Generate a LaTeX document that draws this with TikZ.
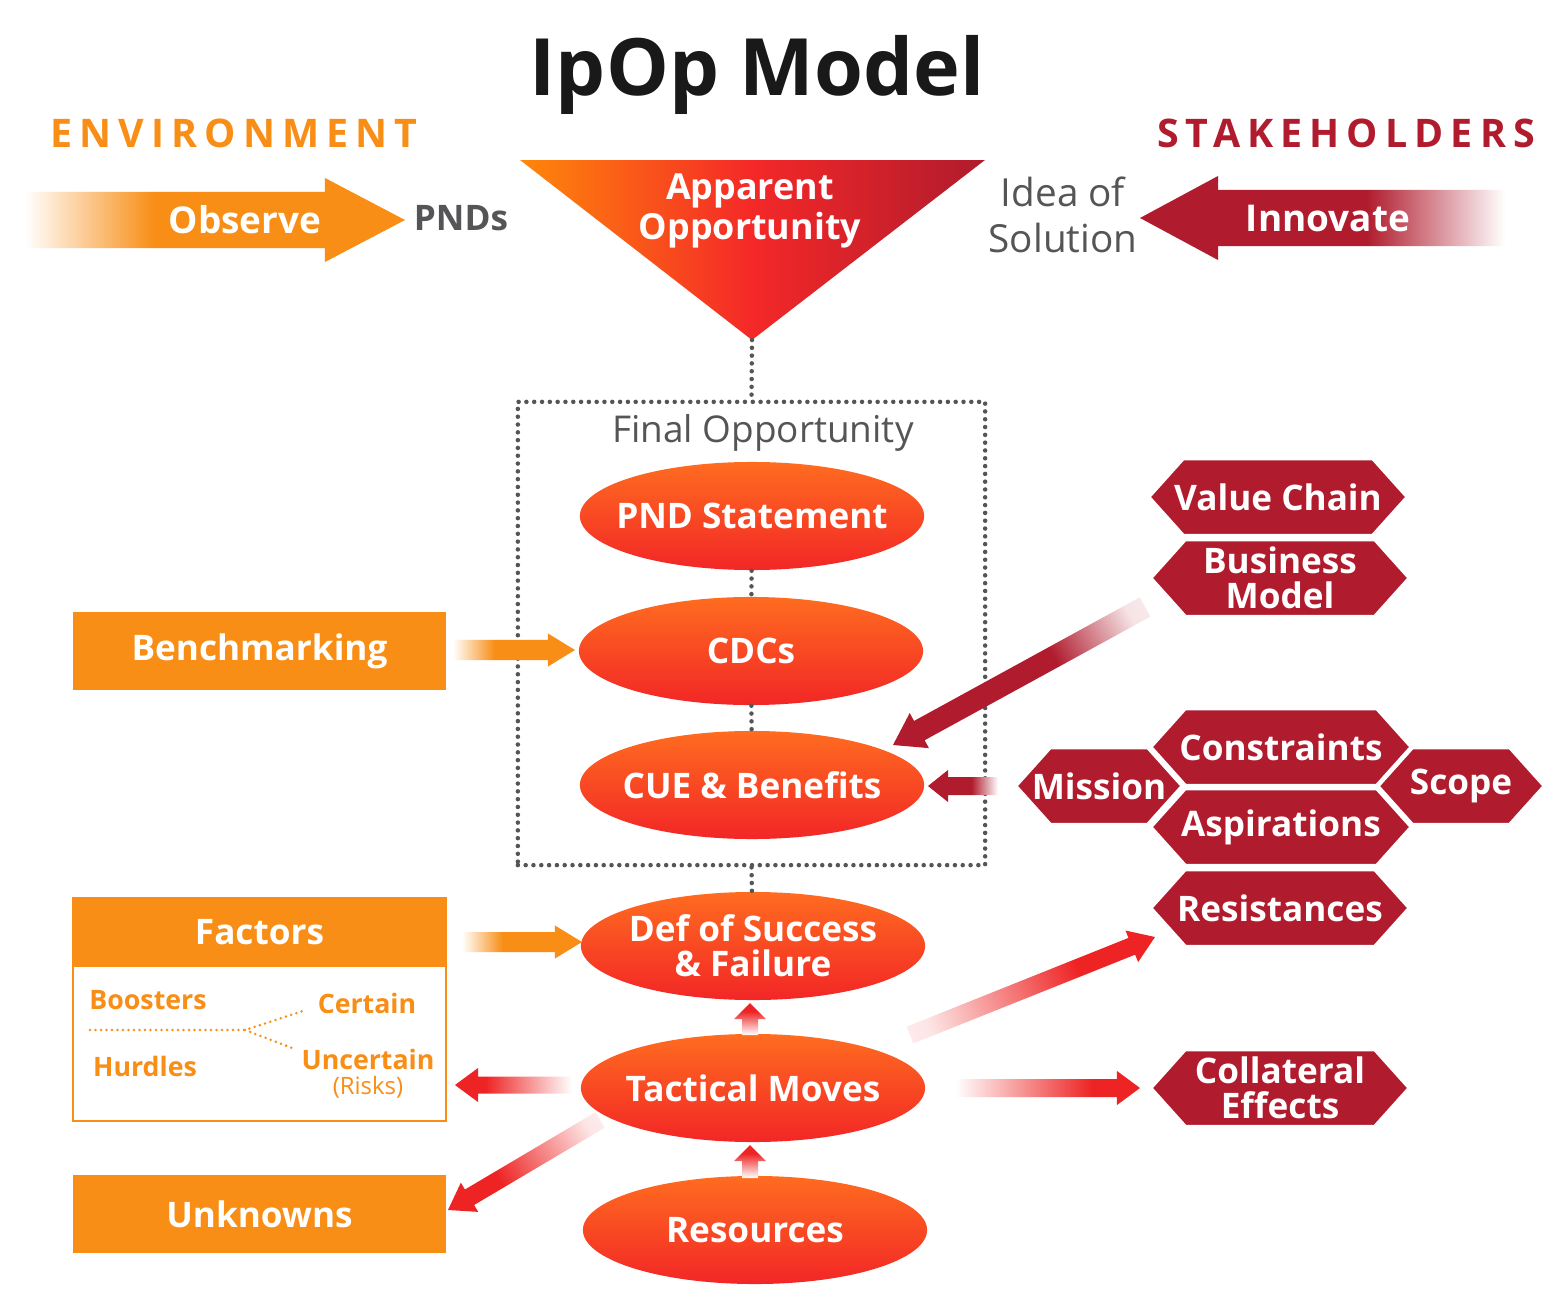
\documentclass[tikz,border=0pt]{standalone}
\usepackage{fontspec}
\setmainfont{Open Sans}
\usetikzlibrary{calc,shapes.geometric}
\definecolor{orC}{RGB}{248,142,22}
\definecolor{drC}{RGB}{176,27,45}
\definecolor{rdC}{RGB}{238,36,36}
\definecolor{elTop}{RGB}{255,108,32}
\definecolor{elBot}{RGB}{242,38,38}
\definecolor{grC}{RGB}{85,85,88}
\definecolor{triL}{RGB}{255,135,10}
\definecolor{triM}{RGB}{244,40,40}
\definecolor{triR}{RGB}{176,27,45}
\pgfdeclarehorizontalshading{fadeO}{100bp}{color(0bp)=(white); color(25bp)=(white); color(42bp)=(orC); color(100bp)=(orC)}
\pgfdeclarehorizontalshading{fadeD}{100bp}{color(0bp)=(white); color(25bp)=(white); color(44bp)=(drC); color(100bp)=(drC)}
\pgfdeclarehorizontalshading{fadeDd}{100bp}{color(0bp)=(white); color(22bp)=(drC!12); color(42bp)=(drC); color(100bp)=(drC)}
\pgfdeclarehorizontalshading{fadeR}{100bp}{color(0bp)=(white); color(25bp)=(white); color(62bp)=(rdC); color(100bp)=(rdC)}
\pgfdeclarehorizontalshading{fadeRd}{100bp}{color(0bp)=(white); color(24bp)=(rdC!12); color(62bp)=(rdC); color(100bp)=(rdC)}
% #1 tail, #2 tip, #3 shading, #4 angle, #5 half body, #6 half head, #7 head length
\newcommand\fatarrow[7]{%
  \path ($(#2)!#7!(#1)$) coordinate (hb);
  \shade[shading=#3, shading angle=#4] ($(#1)!#5!90:(#2)$) -- ($(hb)!#5!90:(#2)$) -- ($(hb)!#6!90:(#2)$) -- (#2) -- ($(hb)!#6!-90:(#2)$) -- ($(hb)!#5!-90:(#2)$) -- ($(#1)!#5!-90:(#2)$) -- cycle;
}
% #1 name, #2 cx, #3 cy, #4 half width, #5 text
\newcommand\hexa[5]{%
  \fill[drC, draw=white, line width=0.045cm, line join=miter] ({#2-#4},#3) -- ({#2-#4+35},{#3-39}) -- ({#2+#4-35},{#3-39}) -- ({#2+#4},#3) -- ({#2+#4-35},{#3+39}) -- ({#2-#4+35},{#3+39}) -- cycle;
  \node[lab] (#1) at (#2,#3) {#5};
}
\begin{document}
\begin{tikzpicture}[x=0.01cm,y=-0.01cm,
  lab/.style={text=white, font=\bfseries\fontsize{10}{10}\selectfont, align=center, inner sep=0pt},
  glab/.style={text=grC, font=\fontsize{10.5}{13}\selectfont, align=center, inner sep=0pt},
  ell/.style={ellipse, minimum width=3.44cm, minimum height=1.08cm, inner sep=0pt, top color=elTop, bottom color=elBot, draw=none},
  obox/.style={rectangle, fill=orC, minimum width=3.73cm, minimum height=0.78cm, inner sep=0pt, text=white, font=\bfseries\fontsize{10}{10}\selectfont},
  flab/.style={text=orC, font=\bfseries\fontsize{7.6}{8}\selectfont, inner sep=0pt},
  dotline/.style={grC, line width=0.045cm, line cap=round, dash pattern=on 0pt off 0.078cm},
  fdot/.style={orC, line width=0.028cm, line cap=round, dash pattern=on 0pt off 0.055cm}]
\useasboundingbox (0,0) rectangle (1566,1309);
\fill[white] (0,0) rectangle (1566,1309);

% title and headings
\node[anchor=base, inner sep=0pt, font=\bfseries\fontsize{22.5}{24}\selectfont, text=black!90] (title) at (757,95) {IpOp Model};
\node[anchor=base, inner sep=0pt, text=orC, font=\bfseries\fontsize{11.2}{12}\selectfont\addfontfeature{LetterSpace=18}] (env) at (234,147) {ENVIRONMENT};
\node[anchor=base, inner sep=0pt, text=drC, font=\bfseries\fontsize{11.2}{12}\selectfont\addfontfeature{LetterSpace=18}] (stk) at (1346,147) {STAKEHOLDERS};

% top arrows
\coordinate (obsT) at (25,220); \coordinate (obsH) at (405,220);
\fatarrow{obsT}{obsH}{fadeO}{0}{0.28cm}{0.42cm}{0.8cm}
\node[lab, font=\fontsize{10.5}{10}\selectfont\bfseries] (obs) at (245,220) {Observe};
\node[glab, font=\bfseries\fontsize{10}{12}\selectfont] (pnds) at (461,218) {PNDs};
\coordinate (innT) at (1505,218); \coordinate (innH) at (1140,218);
\fatarrow{innT}{innH}{fadeD}{180}{0.28cm}{0.42cm}{0.78cm}
\node[lab, font=\fontsize{10.5}{10}\selectfont\bfseries] (inn) at (1328,218) {Innovate};
\node[glab, font=\fontsize{11}{13}\selectfont] (idea) at (1063,215) {Idea of\\Solution};

% apparent opportunity triangle
\shade[left color=triL, right color=triR, middle color=triM] (520,160) -- (985,160) -- (752,340) -- cycle;
\coordinate (tri) at (752,340);
\node[lab, font=\bfseries\fontsize{10.2}{10}\selectfont] (app) at (750,211) {Apparent\\Opportunity};

% final opportunity box
\node[draw=grC, line width=0.045cm, line cap=round, dash pattern=on 0pt off 0.078cm, minimum width=4.67cm, minimum height=4.63cm, inner sep=0pt] (fbox) at (751.5,633.5) {};
\node[glab] (fo) at (763,433) {Final Opportunity};
\draw[dotline] (tri) -- (fbox.north);

% ellipses
\node[ell, label={[lab]center:PND Statement}] (pnd) at (752,516) {};
\node[ell, label={[lab]center:CDCs}] (cdc) at (751,651) {};
\node[ell, label={[lab]center:CUE \& Benefits}] (cue) at (752,785) {};
\node[ell, label={[lab]center:{Def of Success\\\& Failure}}] (def) at (753,946) {};
\node[ell, label={[lab]center:Tactical Moves}] (tac) at (753,1088) {};
\node[ell, label={[lab]center:Resources}] (rsc) at (755,1230) {};
\draw[dotline] (pnd) -- (cdc);
\draw[dotline] (cdc) -- (cue);
\draw[dotline] (fbox.south) -- (def);

% left boxes
\node[obox] (bench) at (259.5,651) {Benchmarking};
\node[draw=orC, line width=0.02cm, minimum width=3.73cm, minimum height=2.23cm, inner sep=0pt] (facbox) at (259.5,1009.5) {};
\node[obox, minimum height=0.69cm] (fac) at (259.5,932.5) {Factors};
\node[flab] (boost) at (148,1000) {Boosters};
\node[flab] (hurd) at (145,1066) {Hurdles};
\node[flab] (cert) at (367,1003) {Certain};
\node[flab] (unc) at (368,1059) {Uncertain};
\node[flab, font=\fontsize{6.8}{7}\selectfont] (risk) at (368,1087) {(Risks)};
\coordinate (fL) at (90,1030); \coordinate (fJ) at (245,1030);
\coordinate (fC) at (306,1010); \coordinate (fU) at (292,1048);
\draw[fdot] (fL) -- (fJ) -- (fC);
\draw[fdot] (fJ) -- (fU);
\node[obox] (unk) at (259.5,1214) {Unknowns};

% orange arrows
\coordinate (bT) at (453,650); \coordinate (bH) at (575,650);
\fatarrow{bT}{bH}{fadeO}{0}{0.1cm}{0.165cm}{0.27cm}
\coordinate (fT) at (462,942); \coordinate (fH) at (582,942);
\fatarrow{fT}{fH}{fadeO}{0}{0.1cm}{0.165cm}{0.27cm}

% hexagons
\hexa{vc}{1278}{497}{130}{Value Chain}
\hexa{bm}{1280}{578}{130}{Business\\Model}
\hexa{mis}{1099}{786}{84}{Mission}
\hexa{sco}{1461}{786}{84}{Scope}
\hexa{con}{1281}{747}{131}{Constraints}
\hexa{asp}{1281}{827}{131}{Aspirations}
\hexa{res}{1280}{908}{130}{Resistances}
\hexa{col}{1280}{1088}{130}{Collateral\\Effects}

% dark red arrows
\coordinate (bmT) at (1145,607); \coordinate (bmH) at (893,745);
\fatarrow{bmT}{bmH}{fadeDd}{208.7}{0.11cm}{0.2cm}{0.3cm}
\coordinate (misT) at (998,786); \coordinate (misH) at (928,786);
\fatarrow{misT}{misH}{fadeD}{180}{0.09cm}{0.16cm}{0.2cm}

% red tactical arrows
\coordinate (uT) at (750,1035); \coordinate (uH) at (750,1003);
\fatarrow{uT}{uH}{fadeR}{90}{0.08cm}{0.16cm}{0.16cm}
\coordinate (rT) at (750,1178); \coordinate (rH) at (750,1145);
\fatarrow{rT}{rH}{fadeR}{90}{0.08cm}{0.16cm}{0.16cm}
\coordinate (lT) at (572,1085); \coordinate (lH) at (455,1085);
\fatarrow{lT}{lH}{fadeR}{180}{0.085cm}{0.17cm}{0.23cm}
\coordinate (dT) at (600,1120); \coordinate (dH) at (448,1210);
\fatarrow{dT}{dH}{fadeRd}{210.1}{0.09cm}{0.17cm}{0.25cm}
\coordinate (eT) at (910,1035); \coordinate (eH) at (1155,937);
\fatarrow{eT}{eH}{fadeRd}{22}{0.09cm}{0.17cm}{0.25cm}
\coordinate (cT) at (955,1088); \coordinate (cH) at (1140,1088);
\fatarrow{cT}{cH}{fadeR}{0}{0.09cm}{0.17cm}{0.23cm}
\end{tikzpicture}
\end{document}
